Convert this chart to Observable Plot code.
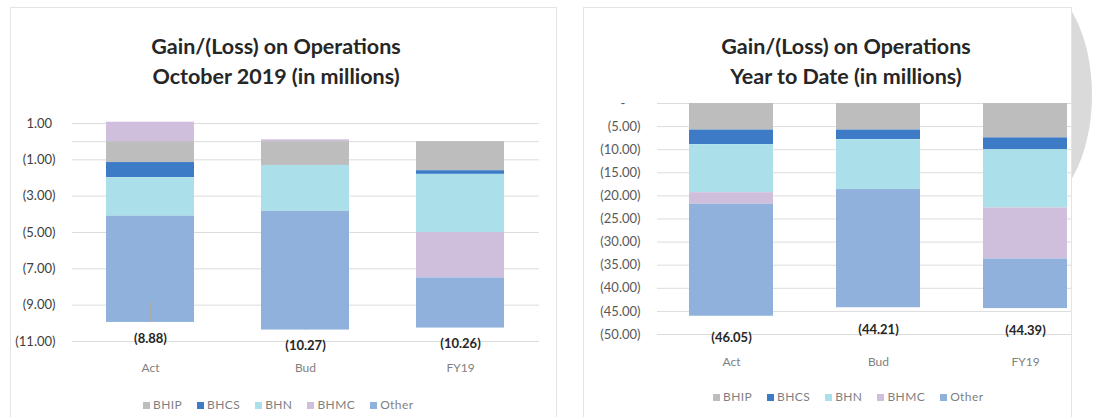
<!DOCTYPE html>
<html><head><meta charset="utf-8">
<script src="https://cdn.jsdelivr.net/npm/d3@7"></script>
<script src="https://cdn.jsdelivr.net/npm/@observablehq/plot@0.6"></script>
<style>
html,body{margin:0;padding:0;background:#fff}
body{width:1104px;height:417px;overflow:hidden;position:relative;font-family:Lato,"Open Sans",sans-serif}
.box{position:absolute;top:7px;height:430px;border-top:1px solid #e4e4e4;border-left:1px solid #e4e4e4;border-right:1px solid #e4e4e4;box-sizing:border-box}
.title{position:absolute;width:440px;text-align:center;font-weight:700;font-size:21.5px;line-height:30px;color:#262626;white-space:nowrap}
.plotwrap{position:absolute;top:0;height:417px;overflow:hidden}
.plotwrap svg{position:absolute;left:0;top:0;background:transparent;max-width:none!important}
.legend{position:absolute;display:flex;align-items:center;gap:15px;font-size:12px;color:#7f7f7f;letter-spacing:0.4px;white-space:nowrap}
.legend .sw{display:inline-block;width:7px;height:7px;margin-right:3px;vertical-align:middle}
.deco{position:absolute;left:1071px;top:0;width:33px;height:417px;overflow:hidden}
.deco div{position:absolute;left:-103px;top:-18px;width:124px;height:226px;border-radius:50%;background:#dadada}
</style>
</head><body>
<div class="deco"><div></div></div>
<div class="box" style="left:10px;width:547px"></div>
<div class="box" style="left:583px;width:489px"></div>
<div class="title" style="left:56px;top:31px">Gain/(Loss) on Operations<br>October 2019 (in millions)</div>
<div class="title" style="left:626px;top:31px">Gain/(Loss) on Operations<br>Year to Date (in millions)</div>
<div class="plotwrap" id="left" style="left:0;width:560px"></div>
<div class="plotwrap" id="right" style="left:560px;width:511px"></div>
<div class="legend" id="legL" style="left:143px;top:397px"></div>
<div class="legend" id="legR" style="left:713px;top:389px"></div>
<script>
// ---- data ----
const categories = ["Act", "Bud", "FY19"];
const series = ["BHIP", "BHCS", "BHN", "BHMC", "Other"];
const colors = ["#bdbdbd", "#3d7bc6", "#abe0ea", "#d0bedd", "#8fb1db"];

// October 2019 (in millions)
const octBHIP  = [-1.15, -1.31, -1.60];
const octBHCS  = [-0.83,  0.00, -0.20];
const octBHN   = [-2.12, -2.52, -3.20];
const octBHMC  = [ 1.07,  0.10, -2.50];
const octOther = [-5.85, -6.54, -2.76];
const octTotal = [-8.88, -10.27, -10.26];
const octTicks = [1, -1, -3, -5, -7, -9, -11];
const octGrid  = [1, 0, -1, -3, -5, -7, -9, -11];

// Year to Date (in millions)
const ytdBHIP  = [-5.75, -5.75, -7.44];
const ytdBHCS  = [-3.15, -2.08, -2.58];
const ytdBHN   = [-10.40, -10.80, -12.60];
const ytdBHMC  = [-2.50,  0.00, -11.03];
const ytdOther = [-24.25, -25.58, -10.74];
const ytdTotal = [-46.05, -44.21, -44.39];
const ytdTicks = [0, -5, -10, -15, -20, -25, -30, -35, -40, -45, -50];

function rows(values) {
  return categories.flatMap((c, i) => series.map((s, j) => ({cat: c, series: s, value: values[j][i]})));
}
function bottoms(values) {
  return categories.map((c, i) => d3.sum(values, arr => Math.min(0, arr[i])));
}
const paren = v => v < 0 ? `(${(-v).toFixed(2)})` : v.toFixed(2) + "\u00a0";

function chart(cfg) {
  const values = cfg.values;
  const data = rows(values);
  const bot = bottoms(values);
  return Plot.plot({
    width: cfg.width, height: 380,
    marginLeft: cfg.marginLeft, marginRight: cfg.marginRight,
    marginTop: cfg.marginTop, marginBottom: cfg.marginBottom,
    style: {fontFamily: "Lato, 'Open Sans', sans-serif", background: "transparent", overflow: "visible", maxWidth: "none"},
    x: {domain: categories, paddingInner: 0.43, paddingOuter: 0.215},
    y: {domain: cfg.yDomain},
    color: {domain: series, range: colors},
    marks: [
      Plot.ruleY(cfg.grid, {stroke: "#dcdcdc", strokeWidth: 1}),
      Plot.barY(data, {x: "cat", y: "value", fill: "series"}),
      cfg.leader ? Plot.ruleX(categories, {x: d => d, y1: (d, i) => cfg.total[i], y2: (d, i) => bot[i], stroke: "#a9a9a9", strokeWidth: 1}) : null,
      Plot.text(categories, {x: d => d, y: (d, i) => bot[i], text: (d, i) => paren(cfg.total[i]), dy: cfg.labelDy,
        fontWeight: 700, fontSize: 13, fill: "#262626"}),
      Plot.axisY({ticks: cfg.ticks, tickSize: 0, tickPadding: 17, tickFormat: cfg.tickFormat, label: null,
        fontSize: 13, fill: cfg.tickColor}),
      Plot.axisX({tickSize: 0, tickPadding: cfg.xPad, label: null, fontSize: 12, fill: "#808080"})
    ]
  });
}

document.getElementById("left").append(chart({
  values: [octBHIP, octBHCS, octBHN, octBHMC, octOther],
  total: octTotal, ticks: octTicks, grid: octGrid, yDomain: [-11, 1],
  width: 560, marginLeft: 72, marginRight: 21, marginTop: 123, marginBottom: 39,
  labelDy: 16, xPad: 22, leader: true, tickColor: "#404040",
  tickFormat: paren
}));

document.getElementById("right").append(chart({
  values: [ytdBHIP, ytdBHCS, ytdBHN, ytdBHMC, ytdOther],
  total: ytdTotal, ticks: ytdTicks, grid: ytdTicks, yDomain: [-50, 0],
  width: 544, marginLeft: 97, marginRight: 5, marginTop: 103, marginBottom: 46,
  labelDy: 22, xPad: 23, leader: false, tickColor: "#595959",
  tickFormat: v => v === 0 ? "-\u2007\u2007" : paren(v)
}));

function legend(id) {
  const el = document.getElementById(id);
  series.forEach((s, i) => {
    const item = document.createElement("span");
    item.innerHTML = `<span class="sw" style="background:${colors[i]}"></span>${s}`;
    el.append(item);
  });
}
legend("legL");
legend("legR");
</script>
</body></html>
